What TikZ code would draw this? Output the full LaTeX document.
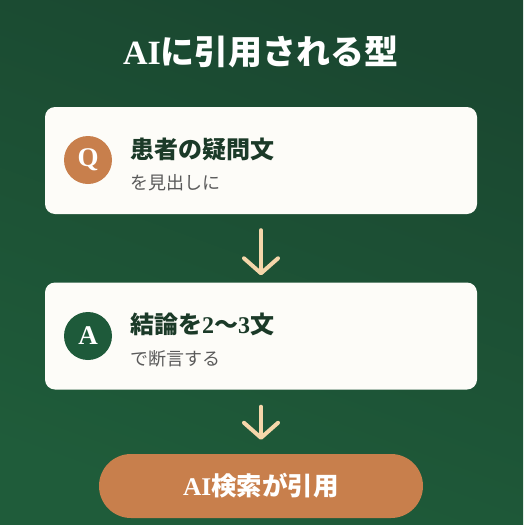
\documentclass[tikz,border=0pt]{standalone}
\usepackage{fontspec}
\usepackage{xcolor}
\setmainfont{Noto Sans CJK JP}
\newfontfamily\serif{Liberation Serif}
\usetikzlibrary{positioning, arrows.meta}

\definecolor{bgtop}{HTML}{1A4730}
\definecolor{bgbot}{HTML}{1F5C3A}
\definecolor{cream}{HTML}{FDFCF8}
\definecolor{copper}{HTML}{C87F4C}
\definecolor{pine}{HTML}{1E5A3A}
\definecolor{ink}{HTML}{1B3A28}
\definecolor{peach}{HTML}{F5D6AA}
\definecolor{subgray}{HTML}{5A5A5A}

\begin{document}
\begin{tikzpicture}[x=1pt, y=-1pt,
  card/.style={fill=cream, rounded corners=10pt, minimum width=432pt, minimum height=107pt, inner sep=0pt},
  badge/.style={circle, minimum size=48pt, inner sep=0pt, text=white, font=\serif\bfseries\fontsize{27}{27}\selectfont},
  head/.style={anchor=base west, inner sep=0pt, text=ink, font=\bfseries\fontsize{24}{24}\selectfont},
  sub/.style={anchor=base west, inner sep=0pt, text=subgray, font=\fontsize{18}{18}\selectfont},
  flow/.style={draw=peach, line width=4pt, line cap=round, -{Straight Barb[length=15pt, width=34pt, round]}},
  pill/.style={fill=copper, rounded corners=32pt, minimum width=324pt, minimum height=64pt, inner sep=0pt, text=white, font=\bfseries\fontsize{25.5}{25.5}\selectfont}]
% Hintergrund
\shade[top color=bgtop, bottom color=bgbot, shading angle=-20] (0,0) rectangle (523,525);
\useasboundingbox (0,0) rectangle (523,525);

% Titel
\node[anchor=base, text=white, font=\bfseries\fontsize{34}{34}\selectfont] (title) at (261,64) {{\serif AI}に引用される型};

% Karten
\node[card] (qcard) at (261,160.5) {};
\node[badge, fill=copper] (q) at (88,160) {Q};
\node[head] (qhead) at (130,158) {患者の疑問文};
\node[sub] (qsub) at (130,189) {を見出しに};

\node[card] (acard) at (261,336) {};
\node[badge, fill=pine] (a) at (88,336) {A};
\node[head] (ahead) at (130,333) {結論を{\serif 2}〜{\serif 3}文};
\node[sub] (asub) at (130,365) {で断言する};

\node[pill] (cite) at (261,486) {{\serif AI}検索が引用};

% Pfeile
\draw[flow, shorten <=16pt, shorten >=7pt] (qcard) -- (acard);
\draw[flow, shorten <=17pt, shorten >=14pt] (acard) -- (cite);
\end{tikzpicture}
\end{document}
